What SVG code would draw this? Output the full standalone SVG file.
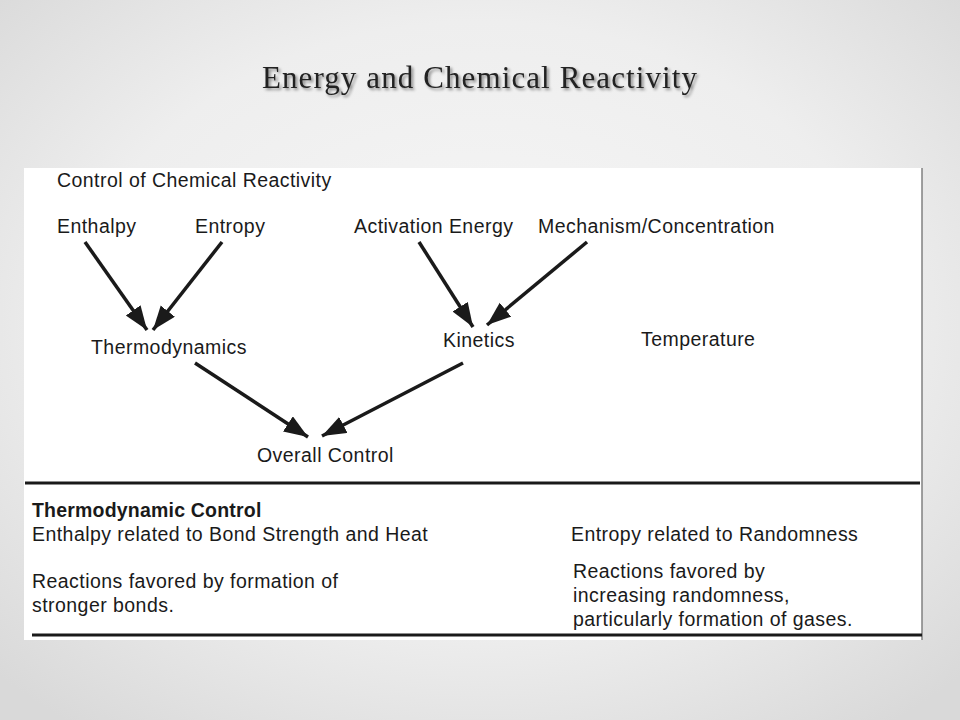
<svg xmlns="http://www.w3.org/2000/svg" width="960" height="720" viewBox="0 0 960 720">
<defs>
<radialGradient id="bg" cx="50%" cy="45%" r="70%">
<stop offset="0" stop-color="#f7f7f7"/>
<stop offset="0.6" stop-color="#eeeeee"/>
<stop offset="1" stop-color="#d9d9d9"/>
</radialGradient>
<filter id="sh" x="-5%" y="-30%" width="110%" height="160%">
<feGaussianBlur in="SourceAlpha" stdDeviation="1.5"/>
<feOffset dx="2" dy="2" result="b"/>
<feComponentTransfer><feFuncA type="linear" slope="0.45"/></feComponentTransfer>
<feMerge><feMergeNode/><feMergeNode in="SourceGraphic"/></feMerge>
</filter>
<marker id="ah" markerUnits="userSpaceOnUse" markerWidth="26" markerHeight="20" refX="24" refY="9" orient="auto">
<path d="M0,0 L24,9 L0,18 Z" fill="#1a1a1a"/>
</marker>
<style>
.t{font-family:"Liberation Sans",Arial,sans-serif;font-size:19.5px;letter-spacing:0.45px;fill:#1a1a1a}
.b{font-weight:bold;letter-spacing:0.2px}
.c{stroke:#1a1a1a;stroke-width:3.5;fill:none;marker-end:url(#ah)}
.rule{stroke:#1a1a1a;stroke-width:3}
</style>
</defs>
<rect width="960" height="720" fill="url(#bg)"/>
<text x="480" y="88" text-anchor="middle" filter="url(#sh)" style="font-family:'Liberation Serif','Times New Roman',serif;font-size:31px;letter-spacing:1.1px;fill:#222222">Energy and Chemical Reactivity</text>

<g id="panel">
<rect x="24" y="168" width="898" height="472" fill="#ffffff"/>
<line x1="922" y1="168" x2="922" y2="640" stroke="#808080" stroke-width="1.5"/>
<line class="rule" x1="25" y1="483" x2="920" y2="483"/>
<line class="rule" x1="32" y1="635" x2="922" y2="635"/>
</g>

<g id="heading"><text class="t" x="57" y="187">Control of Chemical Reactivity</text></g>
<g id="enthalpy"><text class="t" x="57" y="233">Enthalpy</text></g>
<g id="entropy"><text class="t" x="195" y="233">Entropy</text></g>
<g id="activation"><text class="t" x="354" y="233">Activation Energy</text></g>
<g id="mechanism"><text class="t" x="538" y="233">Mechanism/Concentration</text></g>
<g id="thermodynamics"><text class="t" x="91" y="354">Thermodynamics</text></g>
<g id="kinetics"><text class="t" x="443" y="347">Kinetics</text></g>
<g id="temperature"><text class="t" x="641" y="346">Temperature</text></g>
<g id="overall"><text class="t" x="257" y="462">Overall Control</text></g>

<g id="connectors">
<line class="c" x1="85" y1="242" x2="147" y2="330"/>
<line class="c" x1="222" y1="242" x2="153" y2="330"/>
<line class="c" x1="419" y1="242" x2="473" y2="327"/>
<line class="c" x1="587" y1="242" x2="487" y2="325"/>
<line class="c" x1="195" y1="363" x2="308" y2="437"/>
<line class="c" x1="463" y1="363" x2="322" y2="436"/>
</g>

<g id="thermo-control">
<text class="t b" x="32" y="517">Thermodynamic Control</text>
<text class="t" x="32" y="541">Enthalpy related to Bond Strength and Heat</text>
<text class="t" x="32" y="588">Reactions favored by formation of</text>
<text class="t" x="32" y="612">stronger bonds.</text>
</g>
<g id="entropy-control">
<text class="t" x="571" y="541">Entropy related to Randomness</text>
<text class="t" x="573" y="578">Reactions favored by</text>
<text class="t" x="573" y="602">increasing randomness,</text>
<text class="t" x="573" y="626">particularly formation of gases.</text>
</g>
</svg>
